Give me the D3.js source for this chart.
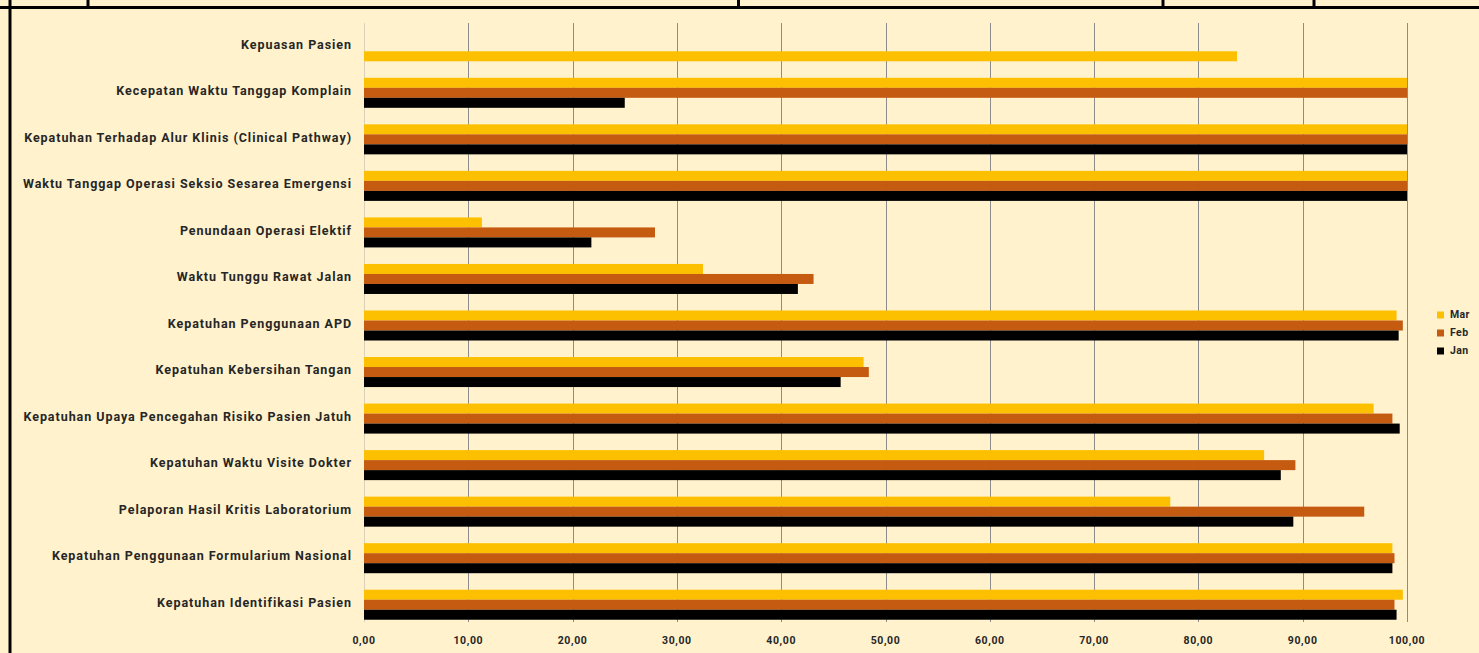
<!DOCTYPE html>
<html>
<head>
<meta charset="utf-8">
<script src="https://cdn.jsdelivr.net/npm/d3@7"></script>
<style>
  body { margin: 0; background: #fff2cc; overflow: hidden; }
  svg { display: block; font-family: Roboto, "DejaVu Sans", sans-serif; }
</style>
</head>
<body>
<svg id="chart" width="1479" height="653"></svg>
<script>
// categories, top to bottom as they appear
const categories = [
    'Kepuasan Pasien',
    'Kecepatan Waktu Tanggap Komplain',
    'Kepatuhan Terhadap Alur Klinis (Clinical Pathway)',
    'Waktu Tanggap Operasi Seksio Sesarea Emergensi',
    'Penundaan Operasi Elektif',
    'Waktu Tunggu Rawat Jalan',
    'Kepatuhan Penggunaan APD',
    'Kepatuhan Kebersihan Tangan',
    'Kepatuhan Upaya Pencegahan Risiko Pasien Jatuh',
    'Kepatuhan Waktu Visite Dokter',
    'Pelaporan Hasil Kritis Laboratorium',
    'Kepatuhan Penggunaan Formularium Nasional',
    'Kepatuhan Identifikasi Pasien'
];

const seriesNames = ['Mar', 'Feb', 'Jan'];
const seriesColors = ['#fcc000', '#c55a11', '#000000'];

const marValues = [83.7, 100, 100, 100, 11.3, 32.5, 99.0, 47.9, 96.8, 86.3, 77.3, 98.6, 99.6];
const febValues = [null, 100, 100, 100, 27.9, 43.1, 99.6, 48.4, 98.6, 89.3, 95.9, 98.8, 98.8];
const janValues = [null, 25.0, 100, 100, 21.8, 41.6, 99.2, 45.7, 99.3, 87.9, 89.1, 98.6, 99.0];

const xTicks = [0, 10, 20, 30, 40, 50, 60, 70, 80, 90, 100];

const svg = d3.select('#chart');

// spreadsheet cell borders around the chart
const border = svg.append('g').attr('stroke', '#000').attr('stroke-width', 3);
border.append('line').attr('x1', 0).attr('x2', 1479).attr('y1', 7.5).attr('y2', 7.5);
[10, 88, 738.5, 1163, 1314].forEach(x => {
    border.append('line').attr('x1', x).attr('x2', x).attr('y1', 0).attr('y2', 8);
});
border.append('line').attr('x1', 10).attr('x2', 10).attr('y1', 7.5).attr('y2', 653);

const plot = {left: 364, right: 1407, top: 23, bottom: 628};

const xScale = d3.scaleLinear()
    .domain([0, 100])
    .range([plot.left, plot.right]);

const yScale = d3.scaleBand()
    .domain(categories)
    .range([plot.top, plot.bottom])
    .paddingInner(0.355)
    .paddingOuter(0.1775);

const slotScale = d3.scaleBand()
    .domain([0, 1, 2])
    .range([0, yScale.bandwidth()]);

// gridlines
svg.append('g')
    .selectAll('line')
    .data(xTicks)
    .enter()
    .append('line')
    .attr('x1', d => Math.round(xScale(d)) + 0.5)
    .attr('x2', d => Math.round(xScale(d)) + 0.5)
    .attr('y1', plot.top)
    .attr('y2', 622)
    .attr('stroke', d => d === 0 ? '#d9d2b8' : '#8c8c8c')
    .attr('stroke-width', 1);

// build bar rows: present series fill slots from the bottom of each band
const allValues = [marValues, febValues, janValues];
const bars = [];
categories.forEach((c, i) => {
    const present = [];
    seriesNames.forEach((s, k) => {
        if (allValues[k][i] != null) present.push({cat: c, series: k, value: allValues[k][i]});
    });
    present.forEach((d, j) => {
        d.slot = 3 - present.length + j;
        bars.push(d);
    });
});

svg.append('g')
    .selectAll('rect')
    .data(bars)
    .enter()
    .append('rect')
    .attr('x', xScale(0))
    .attr('y', d => yScale(d.cat) + slotScale(d.slot))
    .attr('width', d => xScale(d.value) - xScale(0))
    .attr('height', slotScale.bandwidth())
    .attr('fill', d => seriesColors[d.series]);

// category labels
svg.append('g')
    .selectAll('text')
    .data(categories)
    .enter()
    .append('text')
    .attr('x', 352)
    .attr('y', d => yScale(d) + yScale.bandwidth() / 2 - 1)
    .attr('text-anchor', 'end')
    .attr('dominant-baseline', 'middle')
    .attr('font-size', 12.5)
    .attr('font-weight', 700)
    .attr('letter-spacing', 0.95)
    .attr('fill', '#262626')
    .text(d => d);

// x tick labels with comma decimals
const idLocale = d3.formatLocale({decimal: ',', thousands: '.', grouping: [3], currency: ['', '']});
const tickFormat = idLocale.format('.2f');

svg.append('g')
    .selectAll('text')
    .data(xTicks)
    .enter()
    .append('text')
    .attr('x', d => xScale(d))
    .attr('y', 641)
    .attr('text-anchor', 'middle')
    .attr('dominant-baseline', 'middle')
    .attr('font-size', 10.5)
    .attr('font-weight', 700)
    .attr('letter-spacing', 0.6)
    .attr('fill', '#262626')
    .text(d => tickFormat(d));

// legend
const legend = svg.append('g')
    .selectAll('g')
    .data(seriesNames)
    .enter()
    .append('g')
    .attr('transform', (d, i) => 'translate(1437,' + (315 + i * 18) + ')');

legend.append('rect')
    .attr('x', 0)
    .attr('y', -3.5)
    .attr('width', 7)
    .attr('height', 7)
    .attr('fill', (d, i) => seriesColors[i]);

legend.append('text')
    .attr('x', 13)
    .attr('y', 0)
    .attr('dominant-baseline', 'middle')
    .attr('font-size', 10.5)
    .attr('font-weight', 700)
    .attr('letter-spacing', 0.4)
    .attr('fill', '#262626')
    .text(d => d);
</script>
</body>
</html>
